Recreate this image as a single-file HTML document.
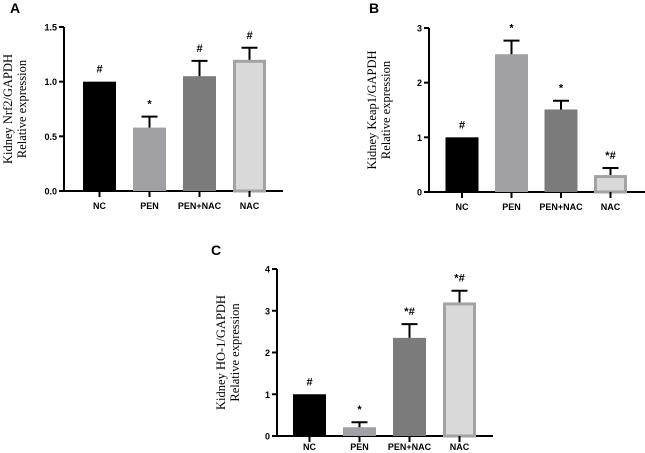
<!DOCTYPE html>
<html><head><meta charset="utf-8"><style>
html,body{margin:0;padding:0;background:#fff;}
svg{display:block;font-family:"Liberation Sans",Arial,sans-serif;}
</style></head><body>
<svg id="fig" width="645" height="453" viewBox="0 0 645 453" xmlns="http://www.w3.org/2000/svg"></svg>
<script>
const categories = ["NC","PEN","PEN+NAC","NAC"];
const nrf2Values = [1.0, 0.58, 1.05, 1.2];
const nrf2ErrTop = [1.0, 0.68, 1.19, 1.31];
const nrf2Marks = ["#","*","#","#"];
const nrf2Ticks = ["0.0","0.5","1.0","1.5"];
const keap1Values = [1.0, 2.52, 1.51, 0.31];
const keap1ErrTop = [1.0, 2.77, 1.67, 0.44];
const keap1Marks = ["#","*","*","*#"];
const keap1Ticks = ["0","1","2","3"];
const ho1Values = [1.0, 0.21, 2.35, 3.2];
const ho1ErrTop = [1.0, 0.33, 2.68, 3.48];
const ho1Marks = ["#","*","*#","*#"];
const ho1Ticks = ["0","1","2","3","4"];

const NS="http://www.w3.org/2000/svg";
const svg=document.getElementById('fig');
function mk(tag,attrs,parent){const e=document.createElementNS(NS,tag);for(const k in attrs)e.setAttribute(k,attrs[k]);(parent||svg).appendChild(e);return e;}
const fills=["#000000","#a1a1a5","#7b7b7b","#d9d9d9"];

function panel(p){
  const g=mk('g',{});
  
  
  const ymax=Number(p.ticks[p.ticks.length-1]);
  const y=v=>p.y0-(v/ymax)*(p.y0-p.yTop);
  const lt=mk('text',{x:p.lx,y:p.ly,'font-size':14,'font-weight':'bold',fill:'#000'},g);lt.textContent=p.letter;
  
  
  const ya=mk('line',{x1:p.ax,y1:p.yTop,x2:p.ax,y2:p.y0+1,stroke:'#000','stroke-width':2},g);
  
  
  p.ticks.forEach(t=>{
    const yy=y(Number(t));
    mk('line',{x1:p.ax-5,y1:yy,x2:p.ax,y2:yy,stroke:'#000','stroke-width':2},g);
    const tx=mk('text',{x:p.ax-7,y:yy+3.5,'font-size':9,'font-weight':'bold','text-anchor':'end'},g);tx.textContent=t;
    
    
  });
  const xa=mk('line',{x1:p.ax-1,y1:p.y0,x2:p.xEnd,y2:p.y0,stroke:'#000','stroke-width':2},g);
  
  
  categories.forEach((c,i)=>{
    const cx=p.x0+i*p.step, bw=p.bw, v=p.values[i], top=p.err[i];
    const xl=cx-bw/2;
    let r;
    if(i===3){ r=mk('rect',{x:xl+1.5,y:y(v)+1.5,width:bw-3,height:p.y0-y(v)-1.5,fill:fills[3],stroke:'#a3a3a3','stroke-width':3},g);}
    else r=mk('rect',{x:xl,y:y(v),width:bw,height:p.y0-y(v),fill:fills[i]},g);
    
    
    if(top>v){
      const e=mk('path',{d:`M${cx},${y(v)}V${y(top)}M${cx-8},${y(top)}H${cx+8}`,stroke:'#000','stroke-width':2,fill:'none'},g);
      
      
    }
    const m=mk('text',{x:cx,y:y(top)-9,'font-size':11,'text-anchor':'middle','font-weight':'bold'},g);m.textContent=p.marks[i];
    
    
    mk('line',{x1:cx,y1:p.y0,x2:cx,y2:p.y0+6,stroke:'#000','stroke-width':2},g);
    const xl2=mk('text',{x:cx,y:p.y0+p.lo,'font-size':9,'font-weight':'bold','text-anchor':'middle'},g);xl2.textContent=c;
    
    
  });
  const mid=(p.y0+p.yTop)/2;
  const tt=mk('text',{transform:`translate(${p.tx},${mid}) rotate(-90)`,'font-size':12.5,'text-anchor':'middle','font-family':'"Liberation Serif",serif'},g);
  
  
  const s1=mk('tspan',{x:0,y:0},tt);s1.textContent=p.title;
  const s2=mk('tspan',{x:0,y:14},tt);s2.textContent='Relative expression';
}
panel({letter:'A',lx:10,ly:13,ax:64,y0:191,yTop:27,xEnd:283,x0:99.5,step:50,bw:33,lo:18,values:nrf2Values,err:nrf2ErrTop,marks:nrf2Marks,ticks:nrf2Ticks,tx:12,title:'Kidney Nrf2/GAPDH'});
panel({letter:'B',lx:369,ly:13,ax:429,y0:192,yTop:28,xEnd:645,x0:462,step:49.5,bw:33,lo:18,values:keap1Values,err:keap1ErrTop,marks:keap1Marks,ticks:keap1Ticks,tx:376,title:'Kidney Keap1/GAPDH'});
panel({letter:'C',lx:211,ly:255,ax:277,y0:436,yTop:269,xEnd:493,x0:309.5,step:50,bw:33,lo:14,values:ho1Values,err:ho1ErrTop,marks:ho1Marks,ticks:ho1Ticks,tx:225,title:'Kidney HO-1/GAPDH'});
</script>
</body></html>
